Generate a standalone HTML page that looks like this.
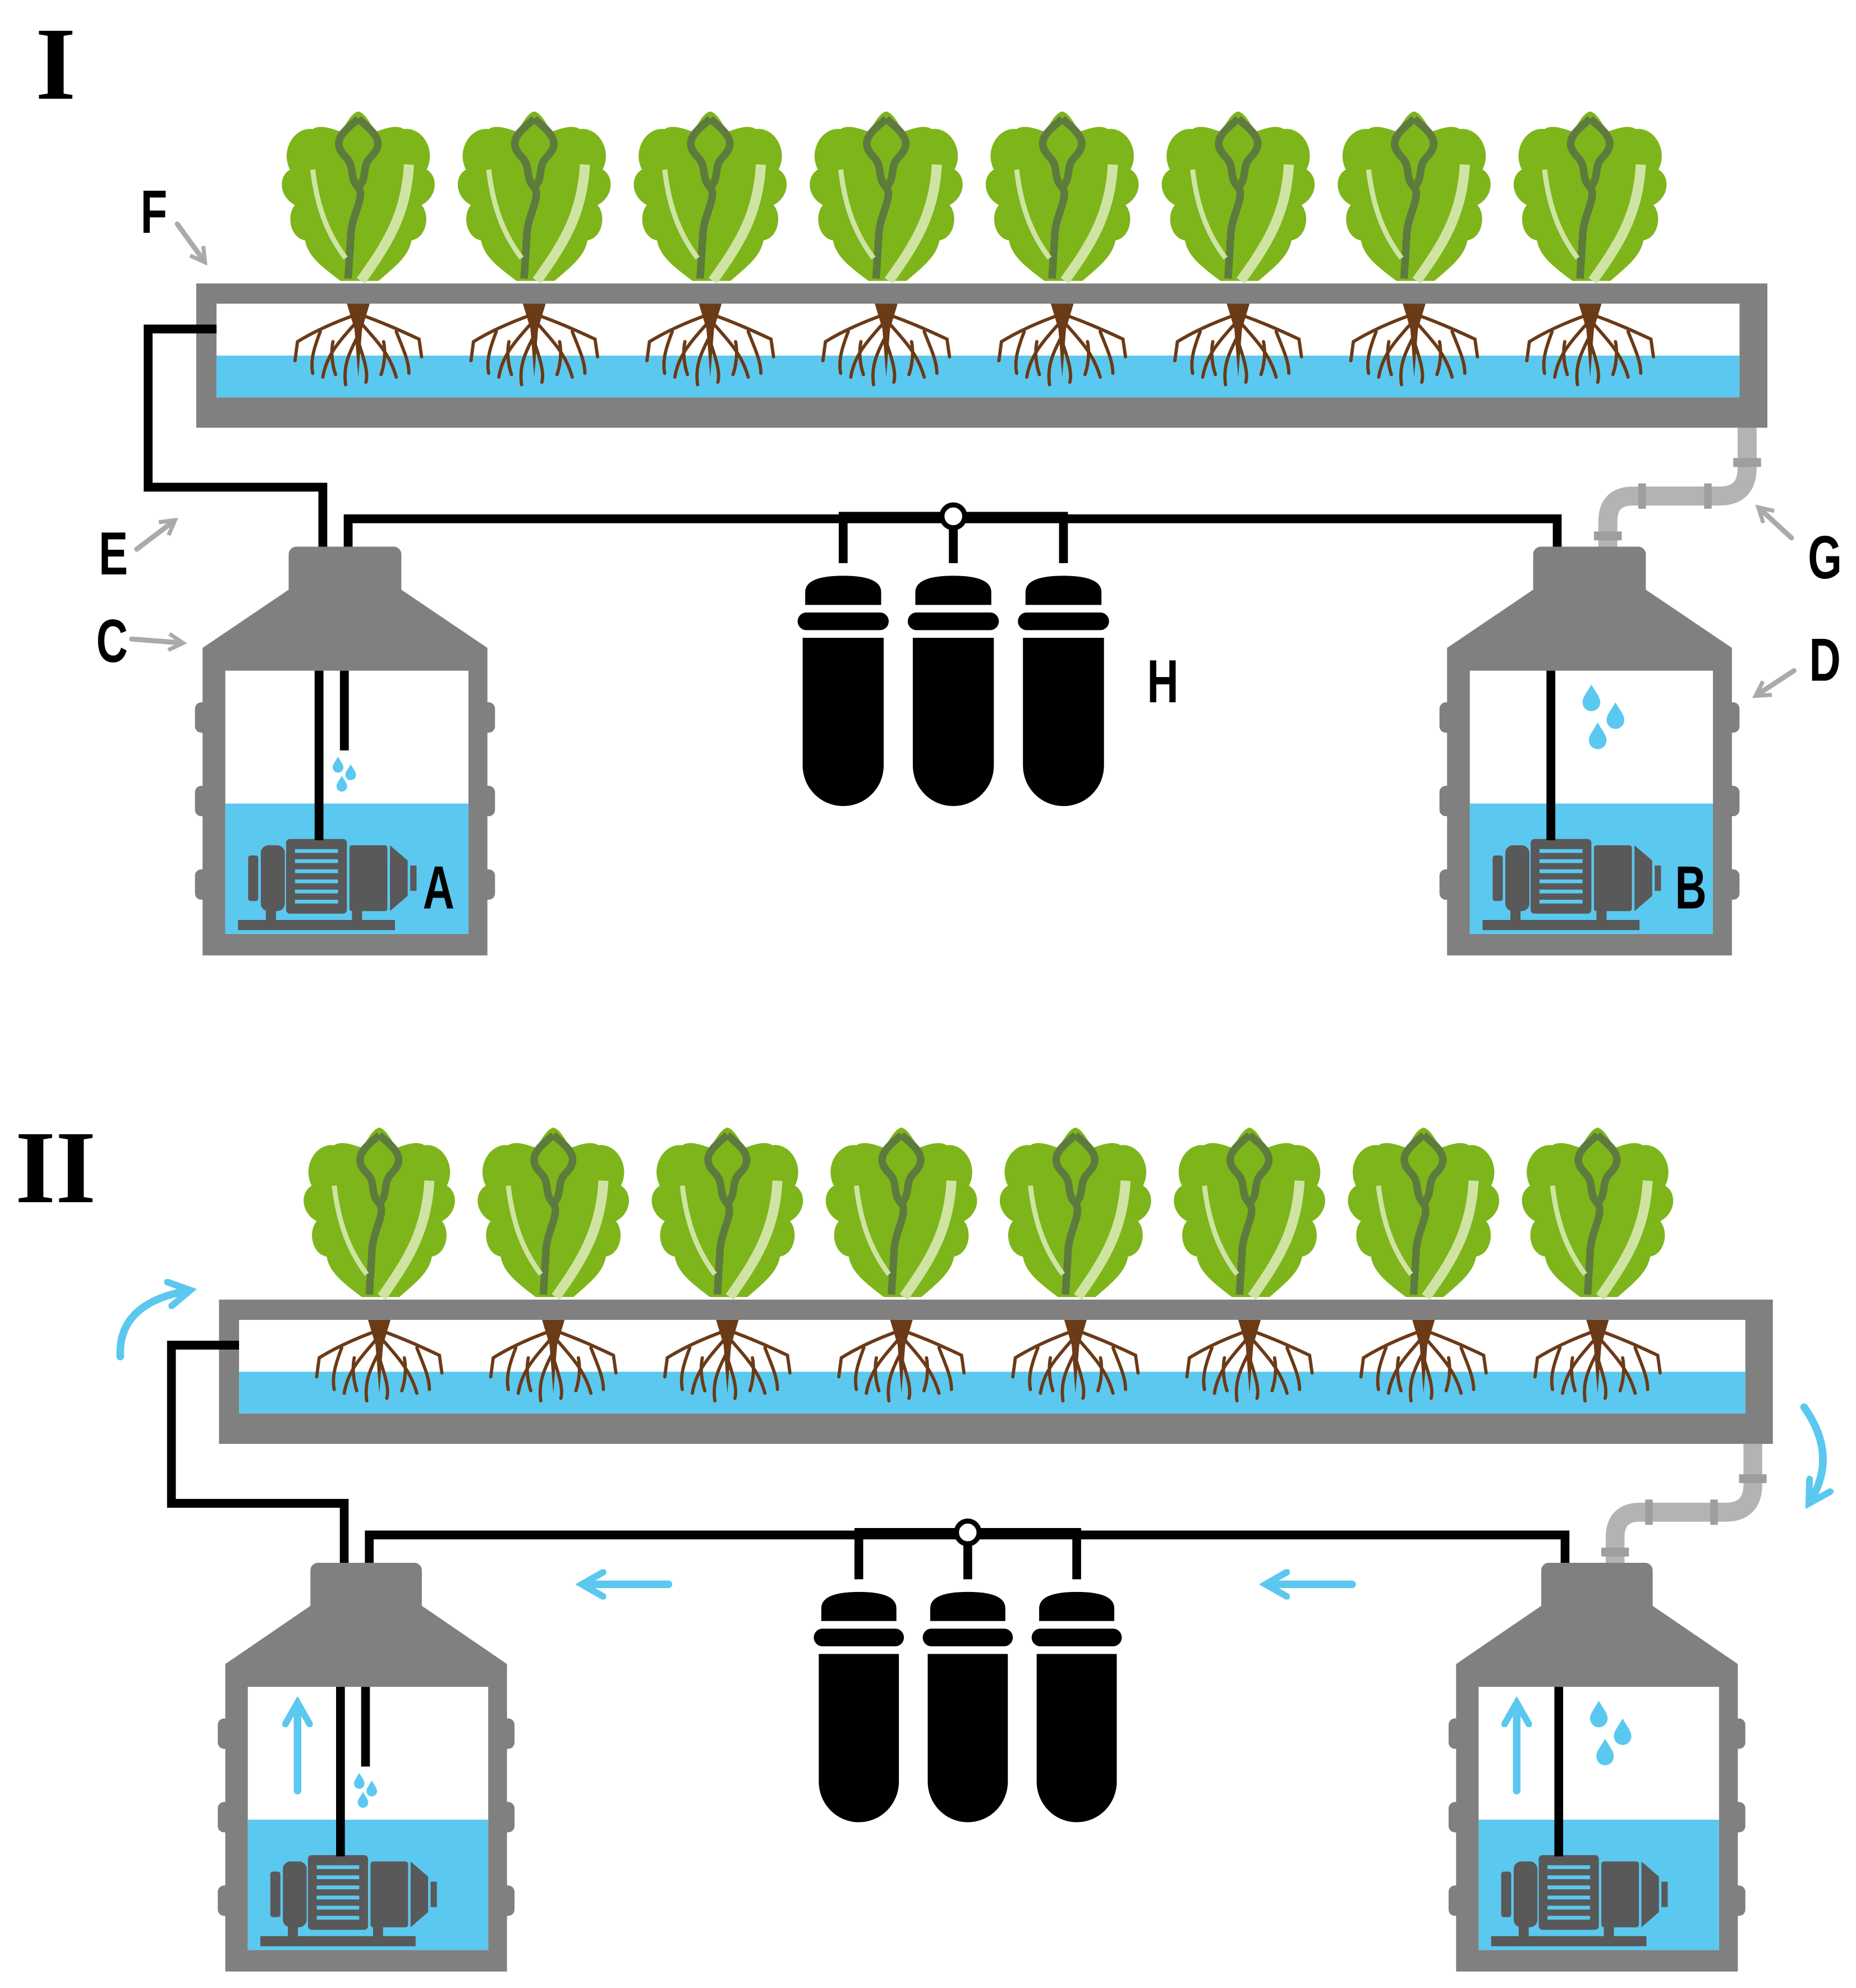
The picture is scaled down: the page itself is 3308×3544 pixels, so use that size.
<!DOCTYPE html>
<html><head><meta charset="utf-8"><style>
html,body{margin:0;padding:0;background:#fff;}
svg{display:block;}
.lbl{font-family:"Liberation Sans Narrow","Liberation Sans",sans-serif;font-weight:bold;font-size:48px;fill:#000;}
.rom{font-family:"Liberation Serif",serif;font-weight:bold;font-size:82px;fill:#000;}
</style></head><body>
<svg width="3308" height="3544" viewBox="0 0 1466 1571" preserveAspectRatio="none" xmlns="http://www.w3.org/2000/svg">
<defs>
<marker id="ga" viewBox="0 0 10 10" refX="7" refY="5" markerWidth="4" markerHeight="4" orient="auto"><path d="M1,1 L8,5 L1,9" fill="none" stroke="#aaa" stroke-width="2"/></marker>
<marker id="ba" viewBox="0 0 10 10" refX="7" refY="5" markerWidth="4" markerHeight="4" orient="auto"><path d="M1,1 L8,5 L1,9" fill="none" stroke="#5bc8ef" stroke-width="2.2" stroke-linecap="round"/></marker>
<g id="let">
<path d="M-14,132 C-30,120 -40,112 -42,100 C-54,98 -57,80 -50,72 C-62,66 -64,50 -54,44 C-62,28 -50,10 -36,12 C-30,8 -20,12 -14,14 C-8,6 -6,0 0,-2 C6,0 8,6 14,14 C20,12 30,8 36,12 C50,10 62,28 54,44 C64,50 62,66 50,72 C57,80 54,98 42,100 C40,112 30,120 16,132 Z" fill="#7db51b"/>
<path d="M0,4 C-12,14 -22,22 -10,34 C-2,42 -8,50 0,58 C6,66 -6,80 -6,98 L-8,130 M0,4 C12,14 22,22 10,34 C2,42 8,50 0,58" fill="none" stroke="#5e7b3e" stroke-width="6"/>
<path d="M-36,44 C-32,78 -22,98 -10,114" fill="none" stroke="#cfe4a2" stroke-width="4"/>
<path d="M40,40 C38,80 22,104 2,132" fill="none" stroke="#cfe4a2" stroke-width="8"/>
</g>
<g id="root" fill="none" stroke="#6b3a17" stroke-width="2.6" stroke-linecap="round">
<path d="M-9,0 L9,0 L3,20 L0,58 L-3,20 Z" fill="#6b3a17" stroke="none"/>
<path d="M0,8 C-20,15 -35,22 -48,30 L-50,45 M0,8 C20,15 35,22 48,28 L50,42 M-2,15 C-15,30 -25,40 -28,58 M2,15 C15,30 25,40 30,58 M0,25 C-8,40 -12,50 -10,64 M-30,22 C-35,35 -38,45 -36,55 M30,22 C35,35 40,45 40,55 M0,30 C5,45 8,55 6,62 M-20,30 C-22,40 -20,50 -18,56 M20,30 C22,40 20,50 18,56"/>
</g>
<path id="drop" d="M0,-10 C4,-3 7,0 7,4 A7,7 0 0 1 -7,4 C-7,0 -4,-3 0,-10Z" fill="#5bc8ef"/>
<g id="tank">
<rect x="228" y="432" width="89" height="40" rx="6" fill="#808080"/>
<path d="M228,466 L317,466 L385,512 L385,755 L160,755 L160,512 Z" fill="#808080"/>
<g fill="#808080">
<rect x="154" y="555" width="237" height="24" rx="5"/>
<rect x="154" y="621" width="237" height="24" rx="5"/>
<rect x="154" y="687" width="237" height="24" rx="5"/>
</g>
<rect x="178" y="530" width="192" height="208" fill="#fff"/>
<rect x="178" y="635" width="192" height="103" fill="#5bc8ef"/>
<g fill="#595959">
<rect x="188" y="727" width="124" height="8"/>
<rect x="210" y="718" width="8" height="10"/><rect x="278" y="718" width="8" height="10"/>
<rect x="196" y="676" width="8" height="36" rx="2"/>
<rect x="206" y="668" width="19" height="52" rx="6"/>
<rect x="226" y="663" width="48" height="59" rx="3"/>
<rect x="276" y="668" width="30" height="52" rx="2"/>
<path d="M308,668 L322,680 L322,708 L308,720Z"/>
<rect x="324" y="684" width="5" height="20"/>
</g>
<g fill="#5bc8ef"><rect x="233" y="671" width="34" height="3"/><rect x="233" y="679" width="34" height="3"/><rect x="233" y="687" width="34" height="3"/><rect x="233" y="695" width="34" height="3"/><rect x="233" y="703" width="34" height="3"/><rect x="233" y="711" width="34" height="3"/></g>
</g>
<g id="filt">
<path d="M-30,478 L-30,468 Q-30,455 0,455 Q30,455 30,468 L30,478Z"/>
<rect x="-36" y="484" width="72" height="14" rx="7"/>
<path d="M-32,504 L32,504 L32,605 A32,32 0 0 1 -32,605Z"/>
</g>
<g id="sys">
<use href="#let" x="283" y="90"/><use href="#let" x="422" y="90"/><use href="#let" x="561" y="90"/><use href="#let" x="700" y="90"/><use href="#let" x="839" y="90"/><use href="#let" x="978" y="90"/><use href="#let" x="1117" y="90"/><use href="#let" x="1256" y="90"/>
<rect x="155" y="224" width="1241" height="114" fill="#808080"/>
<rect x="171" y="240" width="1203" height="74" fill="#fff"/>
<rect x="171" y="281" width="1203" height="33" fill="#5bc8ef"/>
<use href="#root" x="283" y="240"/><use href="#root" x="422" y="240"/><use href="#root" x="561" y="240"/><use href="#root" x="700" y="240"/><use href="#root" x="839" y="240"/><use href="#root" x="978" y="240"/><use href="#root" x="1117" y="240"/><use href="#root" x="1256" y="240"/>
<path d="M1380,338 L1380,370 Q1380,392 1358,392 L1290,392 Q1270,392 1270,412 L1270,434" fill="none" stroke="#b3b3b3" stroke-width="15"/>
<g fill="#9e9e9e"><rect x="1369" y="362" width="22" height="7"/><rect x="1346" y="382" width="6" height="20"/><rect x="1294" y="382" width="6" height="20"/><rect x="1259" y="420" width="22" height="7"/></g>
<path d="M171,260 L117,260 L117,385 L255,385 L255,434" fill="none" stroke="#000" stroke-width="7"/>
<path d="M275,434 L275,410 L1230,410 L1230,434" fill="none" stroke="#000" stroke-width="7"/>
<path d="M666,445 L666,408 L840,408 L840,445 M753,408 L753,445" fill="none" stroke="#000" stroke-width="7"/>
<circle cx="753" cy="408" r="9" fill="#fff" stroke="#000" stroke-width="4"/>
<use href="#filt" x="666"/><use href="#filt" x="753"/><use href="#filt" x="840"/>
<use href="#tank"/>
<use href="#tank" x="983"/>
<path d="M252,530 L252,664 M272,530 L272,593" stroke="#000" stroke-width="7"/>
<path d="M1225,530 L1225,664" stroke="#000" stroke-width="7"/>
</g>
</defs>
<!-- I -->
<text class="rom" x="28" y="78">I</text>
<use href="#sys"/>
<use href="#drop" transform="translate(267,604) scale(0.6)"/><use href="#drop" transform="translate(277,610) scale(0.6)"/><use href="#drop" transform="translate(270,619) scale(0.6)"/>
<use href="#drop" x="1257" y="551"/><use href="#drop" x="1276" y="565"/><use href="#drop" x="1262" y="581"/>
<text class="lbl" transform="translate(334,718) scale(0.72,1)">A</text>
<text class="lbl" transform="translate(1323,718) scale(0.72,1)">B</text>
<text class="lbl" transform="translate(906,555) scale(0.72,1)">H</text>
<text class="lbl" transform="translate(111,184) scale(0.72,1)">F</text>
<text class="lbl" transform="translate(78,454) scale(0.72,1)">E</text>
<text class="lbl" transform="translate(76,523) scale(0.72,1)">C</text>
<text class="lbl" transform="translate(1428,457) scale(0.72,1)">G</text>
<text class="lbl" transform="translate(1429,538) scale(0.72,1)">D</text>
<g fill="none" stroke="#aaa" stroke-width="4" stroke-linecap="round">
<path d="M140,177 L161,206" marker-end="url(#ga)"/>
<path d="M108,434 L137,412" marker-end="url(#ga)"/>
<path d="M104,505 L143,508" marker-end="url(#ga)"/>
<path d="M1415,425 L1390,402" marker-end="url(#ga)"/>
<path d="M1417,530 L1388,549" marker-end="url(#ga)"/>
</g>
<!-- II -->
<text class="rom" x="12" y="950">II</text>
<g transform="matrix(0.989,0,0,1,19.7,803)"><use href="#sys"/>
<use href="#drop" transform="translate(267,604) scale(0.6)"/><use href="#drop" transform="translate(277,610) scale(0.6)"/><use href="#drop" transform="translate(270,619) scale(0.6)"/>
<use href="#drop" x="1257" y="551"/><use href="#drop" x="1276" y="565"/><use href="#drop" x="1262" y="581"/>
</g>
<g fill="none" stroke="#5bc8ef" stroke-width="6" stroke-linecap="round">
<path d="M95,1072 Q93,1030 148,1020" marker-end="url(#ba)"/>
<path d="M1425,1112 Q1452,1150 1430,1186" marker-end="url(#ba)"/>
<path d="M528,1252 L462,1252" marker-end="url(#ba)"/>
<path d="M1068,1252 L1002,1252" marker-end="url(#ba)"/>
<path d="M235,1415 L235,1348" marker-end="url(#ba)"/>
<path d="M1198,1415 L1198,1348" marker-end="url(#ba)"/>
</g>
</svg>
</body></html>
